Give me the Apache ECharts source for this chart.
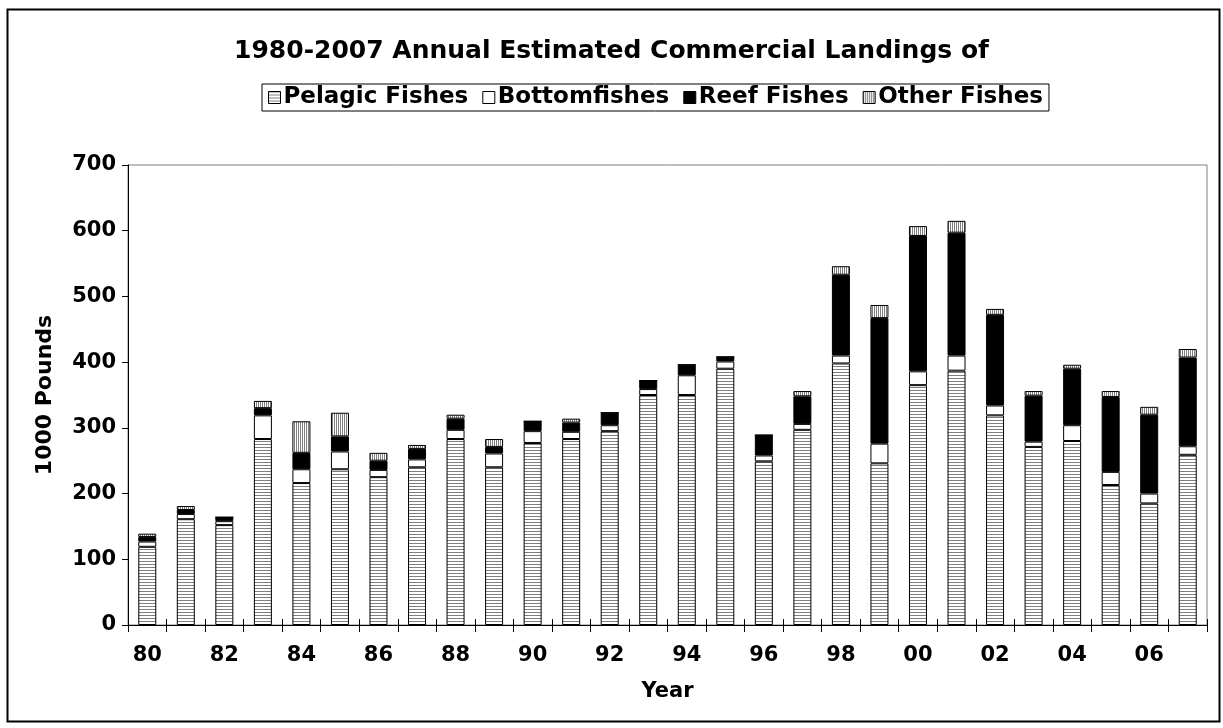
<!DOCTYPE html>
<html>
<head>
<meta charset="utf-8">
<script src="https://cdn.jsdelivr.net/npm/echarts@6/dist/echarts.min.js"></script>
<style>
html,body{margin:0;padding:0;background:#fff;}
#chart{width:1223px;height:728px;}
</style>
</head>
<body>
<div id="chart"></div>
<script>
const years = ['80','81','82','83','84','85','86','87','88','89','90','91','92','93','94','95','96','97','98','99','00','01','02','03','04','05','06','07'];
const pelagic = [119,161,152,283,216,237,225,240,283,240,277,283,295,350,350,390,249,297,398,246,365,387,319,271,280,213,185,259];
const bottomfish = [8,8,6,36,21,27,11,12,14,21,18,11,9,9,30,11,9,9,12,30,21,23,15,8,24,20,15,13];
const reef = [7,6,6,11,25,23,14,16,17,10,15,14,19,13,16,7,31,42,123,191,206,187,138,70,86,114,120,135];
const other = [5,6,0,11,48,36,12,6,6,12,0,6,0,0,0,0,0,8,13,20,15,18,9,7,6,9,12,13];
const yTicks = [0,100,200,300,400,500,600,700];
const seriesNames = ['Pelagic Fishes','Bottomfishes','Reef Fishes','Other Fishes'];

function stripe(horizontal){
  const c = document.createElement('canvas');
  c.width = horizontal ? 4 : 2;
  c.height = horizontal ? 3 : 4;
  const g = c.getContext('2d');
  g.fillStyle = '#ffffff';
  g.fillRect(0,0,c.width,c.height);
  g.fillStyle = '#7f7f7f';
  if (horizontal) g.fillRect(0,0,4,1); else g.fillRect(0,0,1,4);
  return {image:c, repeat:'repeat'};
}

const FONT = 'DejaVu Sans';
const chart = echarts.init(document.getElementById('chart'));
const fills = [stripe(true), '#ffffff', '#000000', stripe(false)];
const dataSets = [pelagic, bottomfish, reef, other];

chart.setOption({
  animation:false,
  backgroundColor:'#ffffff',
  title:{
    text:'1980-2007 Annual Estimated Commercial Landings of',
    left:'center', top:34,
    textStyle:{fontFamily:FONT, fontWeight:'bold', fontSize:25, color:'#000'}
  },
  legend:{
    data:seriesNames,
    left:262, top:84,
    itemWidth:12, itemHeight:12, itemGap:14,
    icon:'rect',
    borderColor:'#000', borderWidth:1, borderRadius:0,
    padding:[2,6,2,6],
    textStyle:{fontFamily:FONT, fontWeight:'bold', fontSize:23, color:'#000', padding:[0,0,0,-2]},
    itemStyle:{borderColor:'#000', borderWidth:1}
  },
  grid:{left:128, right:16, top:165, bottom:103, show:true, borderColor:'#808080', borderWidth:1, backgroundColor:'transparent'},
  xAxis:[{
    type:'category', data:years,
    name:'Year', nameLocation:'middle', nameGap:56,
    nameTextStyle:{fontFamily:FONT, fontWeight:'bold', fontSize:21, color:'#000'},
    axisLine:{lineStyle:{color:'#000', width:1}},
    axisTick:{show:true, interval:0, length:7, lineStyle:{color:'#000'}},
    axisLabel:{interval:1, fontFamily:FONT, fontWeight:'bold', fontSize:21, color:'#000', margin:20}
  },{
    type:'category', data:years, position:'bottom',
    axisLine:{show:false},
    axisTick:{show:true, inside:true, interval:0, length:6, lineStyle:{color:'#000'}},
    axisLabel:{show:false}
  }],
  yAxis:{
    type:'value', min:yTicks[0], max:yTicks[yTicks.length-1], interval:100,
    name:'1000 Pounds', nameLocation:'middle', nameGap:72, nameRotate:90,
    nameTextStyle:{fontFamily:FONT, fontWeight:'bold', fontSize:22, color:'#000'},
    axisLine:{show:true, lineStyle:{color:'#000', width:1}},
    axisTick:{show:true, length:6, lineStyle:{color:'#000'}},
    axisLabel:{fontFamily:FONT, fontWeight:'bold', fontSize:21, color:'#000', margin:12},
    splitLine:{show:false}
  },
  graphic:[{
    type:'rect', left:5, top:7, z:-1,
    shape:{width:1212, height:712},
    style:{fill:'none', stroke:'#000', lineWidth:2}
  }],
  series: seriesNames.map((n,i)=>({
    name:n, type:'bar', stack:'total', xAxisIndex:0,
    barWidth:18,
    data:dataSets[i],
    itemStyle:{color:fills[i], borderColor:'#000', borderWidth:1}
  }))
});
</script>
</body>
</html>
